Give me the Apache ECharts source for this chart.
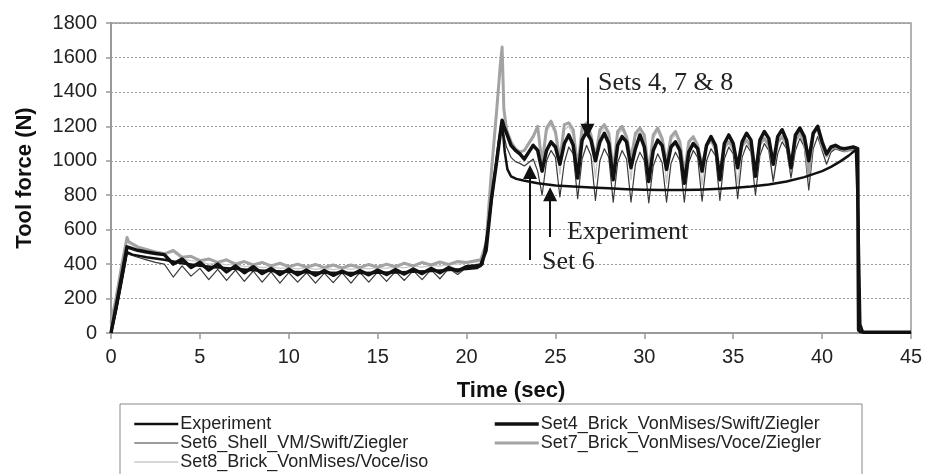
<!DOCTYPE html>
<html><head><meta charset="utf-8">
<script src="https://cdn.jsdelivr.net/npm/echarts@6/dist/echarts.min.js"></script>
<style>html,body{margin:0;padding:0;background:#fff}#c{width:934px;height:474px}</style>
</head><body><div id="c"></div>
<script>
// ---- data ----
const xTicks = [0, 5, 10, 15, 20, 25, 30, 35, 40, 45];
const yTicks = [0, 200, 400, 600, 800, 1000, 1200, 1400, 1600, 1800];
const seriesNames = ['Experiment', 'Set4_Brick_VonMises/Swift/Ziegler', 'Set6_Shell_VM/Swift/Ziegler', 'Set7_Brick_VonMises/Voce/Ziegler', 'Set8_Brick_VonMises/Voce/iso'];

const timeExp = [0, 0.3, 0.6, 0.9, 1.2, 2, 3, 4, 5, 6, 8, 10, 12, 14, 16, 18, 20, 20.6, 20.9, 21.2, 21.5, 21.8, 22.0, 22.15, 22.3, 22.5, 22.8, 23.2, 24, 25, 26, 27, 28, 29, 30, 31, 32, 33, 34, 35, 36, 37, 38, 39, 40, 40.5, 41, 41.5, 41.9, 42.0, 42.05, 42.15, 42.3, 45];
const experiment = [0, 140, 300, 470, 455, 440, 425, 405, 390, 380, 365, 355, 350, 348, 352, 360, 372, 378, 400, 600, 850, 1100, 1225, 1050, 950, 910, 895, 885, 870, 856, 850, 845, 840, 835, 832, 830, 830, 832, 836, 842, 850, 862, 880, 905, 940, 965, 995, 1030, 1065, 1070, 600, 50, 5, 5];

const timeSim = [0, 0.3, 0.6, 0.9,
  1, 1.5, 2, 2.5, 3, 3.5, 4, 4.5, 5, 5.5, 6, 6.5, 7, 7.5, 8, 8.5, 9, 9.5, 10, 10.5, 11, 11.5, 12, 12.5, 13, 13.5, 14, 14.5, 15, 15.5, 16, 16.5, 17, 17.5, 18, 18.5, 19, 19.5, 20, 20.5,
  20.8, 21.1, 21.4, 21.7, 21.9, 22.0, 22.1,
  22.25, 22.5, 22.75, 23, 23.25, 23.5, 23.75, 24, 24.25, 24.5, 24.75, 25, 25.25, 25.5, 25.75, 26, 26.25, 26.5, 26.75, 27, 27.25, 27.5, 27.75, 28, 28.25, 28.5, 28.75, 29, 29.25, 29.5, 29.75, 30, 30.25, 30.5, 30.75, 31, 31.25, 31.5, 31.75, 32, 32.25, 32.5, 32.75, 33, 33.25, 33.5, 33.75, 34, 34.25, 34.5, 34.75, 35, 35.25, 35.5, 35.75, 36, 36.25, 36.5, 36.75, 37, 37.25, 37.5, 37.75, 38, 38.25, 38.5, 38.75, 39, 39.25, 39.5, 39.75, 40, 40.25, 40.5, 40.75, 41, 41.25, 41.5, 41.75, 42,
  42.05, 42.15, 42.3, 45];

const set4 = [0, 160, 330, 500,
  495, 480, 470, 462, 455, 400, 430, 380, 410, 365, 400, 355, 390, 350, 385, 345, 375, 340, 370, 338, 365, 335, 362, 335, 360, 335, 362, 338, 365, 340, 368, 342, 372, 345, 375, 350, 380, 360, 385, 390,
  395, 480, 780, 1000, 1160, 1235, 1200,
  1160, 1090, 1060, 1040, 1010, 1050, 1090, 1060,
  940, 1060, 1110, 1080, 980, 1100, 1150, 1090, 900, 1120, 1170, 1120, 1000, 1110, 1160, 1100,
  890, 1090, 1140, 1110, 960, 1070, 1150, 1080, 880, 1060, 1120, 1090, 950, 1080, 1110, 1060,
  870, 1050, 1100, 1070, 940, 1090, 1140, 1090, 890, 1100, 1150, 1100, 960, 1110, 1160, 1120,
  910, 1120, 1170, 1130, 980, 1140, 1180, 1120, 960, 1150, 1190, 1140, 1000, 1160, 1200, 1110,
  1040, 1080, 1090, 1075, 1070, 1075, 1080, 1070,
  20, 8, 5, 5];

const set6 = [0, 130, 290, 460,
  460, 440, 425, 410, 400, 325, 390, 330, 375, 310, 370, 305, 365, 300, 360, 295, 355, 290, 350, 295, 350, 290, 348, 292, 350, 290, 352, 295, 355, 300, 358, 305, 362, 310, 368, 315, 375, 340, 380, 380,
  385, 470, 760, 990, 1140, 1215, 1150,
  1080, 1020, 995, 985, 970, 990, 1010, 940,
  800, 1000, 1060, 1020, 790, 990, 1080, 1040, 780, 1010, 1090, 1030, 770, 1000, 1070, 1020,
  760, 990, 1060, 1010, 760, 980, 1050, 1000, 755, 970, 1040, 990, 760, 985, 1050, 1000,
  760, 990, 1060, 1020, 765, 1000, 1070, 1030, 770, 1010, 1080, 1040, 780, 1020, 1090, 1050,
  800, 1030, 1100, 1060, 880, 1040, 1110, 1070, 900, 1060, 1130, 1080, 830, 1070, 1140, 1060,
  980, 1050, 1070, 1060, 1055, 1060, 1065, 1060,
  500, 30, 5, 5];

const set7 = [60, 210, 390, 555,
  530, 500, 485, 470, 460, 480, 440, 445, 420, 430, 410, 425, 400, 415, 395, 410, 390, 405, 385, 400, 382, 398, 380, 395, 378, 395, 380, 398, 382, 400, 385, 405, 390, 410, 395, 412, 398, 415, 410, 420,
  425, 520, 940, 1300, 1560, 1660, 1300,
  1180, 1110, 1070, 1050, 1060, 1100, 1140, 1200,
  980, 1190, 1230, 1170, 1000, 1210, 1220, 1180, 960, 1190, 1220, 1150, 1020, 1180, 1210, 1160,
  940, 1170, 1200, 1140, 1010, 1160, 1190, 1150, 930, 1150, 1190, 1130, 990, 1140, 1170, 1110,
  920, 1110, 1140, 1090, 970, 1090, 1120, 1070, 910, 1080, 1110, 1080, 960, 1090, 1120, 1080,
  920, 1100, 1130, 1090, 980, 1110, 1140, 1100, 950, 1120, 1160, 1110, 920, 1160, 1190, 1080,
  1030, 1070, 1080, 1070, 1060, 1065, 1070, 1065,
  0, null, null, null];

const set8 = [40, 190, 370, 545,
  520, 495, 478, 465, 455, 470, 430, 420, 415, 400, 405, 395, 398, 385, 390, 380, 385, 375, 380, 372, 378, 370, 376, 368, 375, 370, 378, 372, 380, 375, 384, 378, 388, 382, 392, 388, 398, 400, 405, 412,
  418, 510, 920, 1280, 1540, 1640, 1280,
  1170, 1100, 1060, 1045, 1065, 1110, 1150, 1190,
  950, 1170, 1210, 1150, 920, 1180, 1200, 1150, 940, 1160, 1200, 1140, 900, 1160, 1190, 1150,
  950, 1150, 1180, 1130, 890, 1140, 1170, 1120, 920, 1130, 1170, 1110, 870, 1120, 1150, 1100,
  900, 1100, 1130, 1080, 860, 1080, 1110, 1070, 900, 1070, 1100, 1060, 870, 1080, 1110, 1070,
  910, 1090, 1120, 1080, 880, 1100, 1130, 1090, 930, 1110, 1150, 1100, 890, 1150, 1180, 1070,
  1020, 1060, 1070, 1060, 1050, 1055, 1060, 1055,
  0, null, null, null];

// annotations: [label, x, y] in data units, arrows [x, yFrom, yTo]
const annoTexts = [['Sets 4, 7 & 8', 27.4, 1453], ['Experiment', 25.65, 587], ['Set 6', 24.25, 413]];
const annoArrows = [[26.8, 1483, 1175], [24.7, 558, 805], [23.57, 424, 935]];

// ---- chart ----
const chart = echarts.init(document.getElementById('c'), null, {renderer: 'canvas'});
const pair = (xs, ys) => xs.map((x, i) => [x, ys[i]]);
const FONT = 'Liberation Sans, Arial, sans-serif';
const styles = {};
styles[seriesNames[0]] = ['#111', 2.5];
styles[seriesNames[1]] = ['#111', 3.5];
styles[seriesNames[2]] = ['#3a3a3a', 1.2];
styles[seriesNames[3]] = ['#a3a3a3', 3];
styles[seriesNames[4]] = ['#c9c9c9', 1.3];

function mk(name, xs, ys, z) {
  const [color, width] = styles[name];
  return {
    name, type: 'line', data: pair(xs, ys), showSymbol: false, symbol: 'none',
    lineStyle: {color, width, join: 'round'}, itemStyle: {color},
    z, silent: true, connectNulls: false
  };
}

const expSeries = mk(seriesNames[0], timeExp, experiment, 6);
expSeries.markLine = {
  silent: true, symbol: ['none', 'triangle'], symbolSize: 14,
  label: {show: false}, lineStyle: {color: '#111', width: 2, type: 'solid'},
  itemStyle: {color: '#111'},
  data: annoArrows.map(a => [{coord: [a[0], a[1]]}, {coord: [a[0], a[2]]}])
};

function legendItems(names) {
  return names.map(n => ({name: n, lineStyle: {color: styles[n][0], width: styles[n][1]}, itemStyle: {opacity: 0, color: 'rgba(0,0,0,0)', borderWidth: 0}}));
}
const legendCommon = {
  orient: 'horizontal', width: 40, padding: 0, itemWidth: 44, itemHeight: 14, itemGap: 1,
  selectedMode: false,
  itemStyle: {opacity: 0, color: 'rgba(0,0,0,0)', borderWidth: 0},
  textStyle: {fontFamily: FONT, fontSize: 18, color: '#222', lineHeight: 14, padding: [0, 0, 0, -3]}
};

chart.setOption({
  animation: false,
  backgroundColor: '#fff',
  grid: {left: 111, right: 23, top: 23, bottom: 141, show: true, borderColor: '#999', borderWidth: 1.5, outerBoundsMode: 'none'},
  xAxis: {
    type: 'value', min: xTicks[0], max: xTicks[xTicks.length - 1], interval: 5,
    axisLine: {lineStyle: {color: '#999', width: 2}},
    axisTick: {show: true, length: 6, lineStyle: {color: '#999', width: 1.5}},
    axisLabel: {fontFamily: FONT, fontSize: 20, color: '#222', margin: 14, formatter: v => String(v)},
    splitLine: {show: false}
  },
  yAxis: {
    type: 'value', min: yTicks[0], max: yTicks[yTicks.length - 1], interval: 200,
    axisLine: {show: true, lineStyle: {color: '#999', width: 2}},
    axisTick: {show: true, length: 5, lineStyle: {color: '#999', width: 1.5}},
    axisLabel: {fontFamily: FONT, fontSize: 20, color: '#222', margin: 14, formatter: v => String(v)},
    splitLine: {show: true, lineStyle: {color: '#999', width: 1, type: [2, 2]}}
  },
  legend: [
    Object.assign({left: 133, top: 415, data: legendItems([seriesNames[0], seriesNames[2], seriesNames[4]])}, legendCommon),
    Object.assign({left: 493, top: 415, data: legendItems([seriesNames[1], seriesNames[3]])}, legendCommon)
  ],
  series: [
    mk(seriesNames[4], timeSim, set8, 2),
    mk(seriesNames[2], timeSim, set6, 3),
    mk(seriesNames[3], timeSim, set7, 4),
    mk(seriesNames[1], timeSim, set4, 5),
    expSeries
  ]
});

const g = [
  {type: 'rect', shape: {x: 120, y: 404, width: 742, height: 80}, style: {fill: 'none', stroke: '#888', lineWidth: 1}, z: 0},
  {type: 'text', x: 511, y: 391, style: {text: 'Time (sec)', font: 'bold 22px ' + FONT, fill: '#111', textAlign: 'center', textVerticalAlign: 'middle', align: 'center', verticalAlign: 'middle'}},
  {type: 'text', x: 25, y: 178, rotation: Math.PI / 2, style: {text: 'Tool force (N)', font: 'bold 22px ' + FONT, fill: '#111', textAlign: 'center', textVerticalAlign: 'middle', align: 'center', verticalAlign: 'middle'}}
];
annoTexts.forEach(a => {
  const p = chart.convertToPixel({gridIndex: 0}, [a[1], a[2]]);
  g.push({type: 'text', x: p[0], y: p[1], z: 20, style: {text: a[0], font: '26px Liberation Serif, Times New Roman, serif', fill: '#222', textAlign: 'left', textVerticalAlign: 'middle', align: 'left', verticalAlign: 'middle'}});
});
chart.setOption({graphic: g});
</script></body></html>
